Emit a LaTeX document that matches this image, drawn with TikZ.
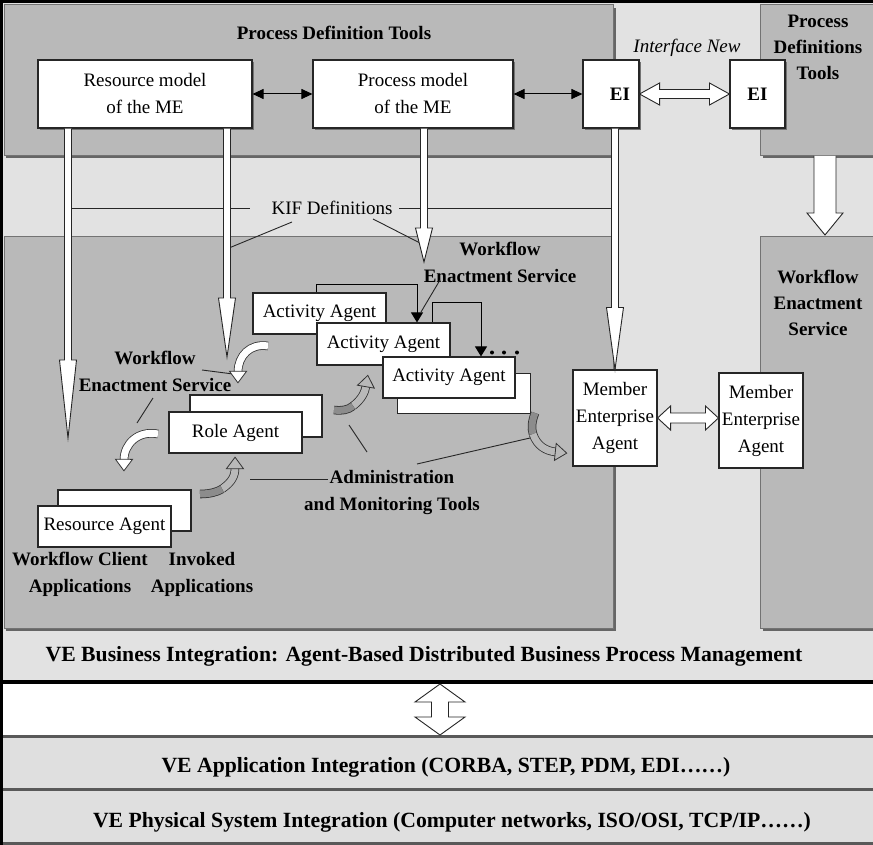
\documentclass[tikz,border=0pt]{standalone}
\usepackage{fontspec}
\setmainfont{Liberation Serif}
\usetikzlibrary{arrows.meta,calc,decorations.markings,shadows}

\definecolor{sheet}{gray}{0.885}
\definecolor{panelfill}{gray}{0.725}
\definecolor{paneledge}{gray}{0.45}
\definecolor{panelshadow}{gray}{0.40}
\definecolor{bandfill}{gray}{0.875}
\definecolor{bandline}{gray}{0.35}
\definecolor{twist}{gray}{0.55}

\newcommand\dgtxt{\fontsize{19}{27}\selectfont}
\newcommand\dgbig{\fontsize{21.7}{26}\selectfont\bfseries}

% hollow downward arrow: start point, tip point, head length, half shaft, half head
\newcommand\hollowdown[5]{%
  \draw[hollow] let \p1=#1, \p2=#2 in
    (\x2-#4,\y1) -- (\x2-#4,\y2+#3) -- (\x2-#5,\y2+#3) -- (\x2,\y2)
    -- (\x2+#5,\y2+#3) -- (\x2+#4,\y2+#3) -- (\x2+#4,\y1);}
% hollow horizontal double arrow: left tip, right tip, head length, half shaft, half head
\newcommand\hollowboth[5]{%
  \draw[hollow] let \p1=#1, \p2=#2 in
    (\x1,\y1) -- (\x1+#3,\y1+#5) -- (\x1+#3,\y1+#4) -- (\x2-#3,\y1+#4)
    -- (\x2-#3,\y1+#5) -- (\x2,\y1) -- (\x2-#3,\y1-#5) -- (\x2-#3,\y1-#4)
    -- (\x1+#3,\y1-#4) -- (\x1+#3,\y1-#5) -- cycle;}
% hollow vertical double arrow: top tip, bottom tip, head length, half shaft, half head
\newcommand\hollowvboth[5]{%
  \draw[hollow] let \p1=#1, \p2=#2 in
    (\x1,\y1) -- (\x1+#5,\y1-#3) -- (\x1+#4,\y1-#3) -- (\x1+#4,\y2+#3)
    -- (\x1+#5,\y2+#3) -- (\x1,\y2) -- (\x1-#5,\y2+#3) -- (\x1-#4,\y2+#3)
    -- (\x1-#4,\y1-#3) -- (\x1-#5,\y1-#3) -- cycle;}

\tikzset{
  panel/.style={fill=panelfill, draw=paneledge, line width=0.8pt},
  box/.style={draw=black!85, fill=white, line width=1.1pt, inner sep=0pt, align=center, font=\dgtxt},
  sbox/.style={box, drop shadow={shadow xshift=2pt, shadow yshift=-2pt, fill=black!55, opacity=1}},
  lbl/.style={align=center, inner sep=0pt, font=\dgtxt\bfseries},
  lead/.style={draw=black!85, line width=0.9pt},
  hollow/.style={draw=black!85, fill=white, line width=0.9pt, line join=miter},
  blk/.style={draw=black, line width=1pt, -{Triangle[length=10pt,width=12pt]}},
  blkboth/.style={draw=black, line width=1pt, {Triangle[length=11pt,width=10pt]}-{Triangle[length=11pt,width=10pt]}},
  ribbody/.style={preaction={draw=black!80, line width=8.6pt}, draw=#1, line width=7pt},
  ribhead/.style={postaction={decorate, decoration={markings, mark=at position -0.2pt with {\filldraw[fill=#1, draw=black!80, line width=0.8pt, line join=miter] (-0.5pt,-8.5pt) -- (11pt,0pt) -- (-0.5pt,8.5pt) -- cycle;}}}},
}

% curved ribbon arrows
\def\curA{(268,346) .. controls (250,343) and (238,356) .. (238,372)}
\def\curB{(158,434) .. controls (138,430) and (124,444) .. (124,460)}
\def\curCa{(200,494) .. controls (210,494) and (217,492) .. (222,489)}
\def\curCb{(222,489) .. controls (232,482) and (235,476) .. (235,468)}
\def\curDa{(334,410) .. controls (342,411) and (348,410) .. (353,406)}
\def\curDb{(353,406) .. controls (362,399) and (365,392) .. (366,386)}
\def\curEa{(535,413) .. controls (532,421) and (531,428) .. (533,434)}
\def\curEb{(533,434) .. controls (537,446) and (546,451) .. (556,452)}

\begin{document}
\begin{tikzpicture}[x=1pt,y=-1pt]
\useasboundingbox (0,0) rectangle (873,845);

% sheet and panels
\fill[white] (0,0) rectangle (873,845);
\fill[sheet] (3,3) rectangle (873,682);
\fill[panelshadow] (6,8) rectangle (616,158);
\draw[panel] (4,4) rectangle (613,155);
\fill[panelshadow] (763,8) rectangle (873,158);
\draw[panel] (760,4) rectangle (874,155);
\fill[panelshadow] (6,239) rectangle (616,631);
\draw[panel] (4,236) rectangle (613,628);
\fill[panelshadow] (763,239) rectangle (873,631);
\draw[panel] (760,236) rectangle (874,628);

% lower integration layers
\fill[bandfill] (3,736) rectangle (873,843);
\draw[bandline, line width=3pt] (3,736) -- (873,736);
\draw[bandline, line width=3pt] (3,789) -- (873,789);
\draw[bandline, line width=2.5pt] (3,843.5) -- (873,843.5);
\draw[line width=3.5pt] (3,682) -- (873,682);

% titles
\node[lbl] (pdt) at (334,33) {Process Definition Tools};
\node[lbl, font=\dgtxt\itshape] (ifn) at (687,48) {Interface New};
\node[lbl, font=\fontsize{19}{26}\selectfont\bfseries] (pdt2) at (818,47) {Process\\Definitions\\Tools};
\node[lbl, font=\fontsize{19}{26}\selectfont\bfseries] (wes3) at (818,303) {Workflow\\Enactment\\Service};
\node[lbl] (wes2) at (500,262) {Workflow\\Enactment Service};
\node[lbl] (wes1) at (155,371) {Workflow\\Enactment Service};
\node[lbl] (adm) at (392,493) {Administration\\and Monitoring Tools};
\node[lbl] (wca) at (80,574) {Workflow Client\\Applications};
\node[lbl] (inv) at (202,574) {Invoked\\Applications};
\node[lbl, font=\dgtxt, inner sep=2pt] (kif) at (332,208) {KIF Definitions};

\node[font=\dgbig, inner sep=0pt] (veb) at (424,656) {VE Business Integration: Agent-Based Distributed Business Process Management};
\node[font=\dgbig, inner sep=0pt] (vea) at (446,767) {VE Application Integration (CORBA, STEP, PDM, EDI\dots\dots)};
\node[font=\dgbig, inner sep=0pt] (vep) at (452,822) {VE Physical System Integration (Computer networks, ISO/OSI, TCP/IP\dots\dots)};

% KIF leader lines
\draw[lead] (72,208) -- (250,208);
\draw[lead] (399,208) -- (612,208);
\draw[lead] (292,222) -- (229,248);
\draw[lead] (373,219) -- (420,243);

% tips of the hollow arrows
\coordinate (t1) at (68,438);
\coordinate (t2) at (227,357);
\coordinate (t3) at (424,262);

% definition models
\node[sbox, minimum width=214pt, minimum height=68pt] (rm) at (145,94) {Resource model\\of the ME};
\node[sbox, minimum width=200pt, minimum height=68pt] (pm) at (413,94) {Process model\\of the ME};
\node[sbox, minimum width=56pt, minimum height=68pt, font=\dgtxt\bfseries] (ei1) at (611,94) {\hspace*{18pt}EI};
\node[sbox, minimum width=55pt, minimum height=68pt, font=\dgtxt\bfseries] (ei2) at (757.5,94) {EI};

\draw[blkboth] (rm.east) -- (pm.west);
\draw[blkboth] (pm.east) -- (ei1.west);
\hollowboth{(ei1.east)}{(ei2.west)}{20pt}{4.5pt}{11pt}

% member enterprise agents
\node[box, minimum width=84pt, minimum height=96pt] (me1) at (615,418) {Member\\Enterprise\\Agent};
\node[box, minimum width=84pt, minimum height=95pt] (me2) at (761,420.5) {Member\\Enterprise\\Agent};
\hollowboth{(me1.east)}{(me2.west |- me1.east)}{13pt}{5pt}{12pt}

% hollow arrows carrying the definitions
\hollowdown{(rm.south -| t1)}{(t1)}{78pt}{3.5pt}{8.5pt}
\hollowdown{(rm.south -| t2)}{(t2)}{59pt}{3.5pt}{8.5pt}
\hollowdown{(pm.south -| t3)}{(t3)}{34pt}{3.5pt}{8.5pt}
\hollowdown{(ei1.south -| me1.north)}{(me1.north)}{62pt}{3.5pt}{8.5pt}
\coordinate (f1) at (825,156);
\coordinate (f2) at (825,235);
\hollowdown{(f1)}{(f2)}{22pt}{11pt}{18pt}
\hollowvboth{(440,684)}{(440,735)}{18pt}{8.5pt}{25pt}

% activity agents
\node[box, minimum width=133pt, minimum height=41pt] (aa1) at (319.5,313.5) {Activity Agent};
\node[box, minimum width=133pt, minimum height=42pt] (aa2) at (383.5,344) {Activity Agent};
\node[box, minimum width=133pt, minimum height=40pt] (aa3b) at (464,393.5) {};
\node[box, minimum width=132pt, minimum height=41pt] (aa3) at (449,377.5) {Activity Agent};
\coordinate (k1) at (417,284);
\coordinate (k3) at (432,302);
\coordinate (k2) at (481,302);
\draw[blk] (aa1.north -| aa2.west) |- (k1) -- (k1 |- aa2.north);
\draw[blk] (k3 |- aa2.north) -- (k3) -- (k2) -- (k2 |- aa3.north);
\foreach \dx in {492,504,517} \fill (\dx,352.5) circle[radius=2pt];

% role and resource agents
\node[box, minimum width=132pt, minimum height=42pt] (rab) at (256,416) {};
\node[box, minimum width=133pt, minimum height=41pt] (ra) at (235.5,432.5) {Role Agent};
\node[box, minimum width=133pt, minimum height=41pt] (resb) at (124.5,510.5) {};
\node[box, minimum width=133pt, minimum height=41pt] (res) at (104.5,526.5) {Resource Agent};

% label leader lines
\draw[lead] (440,280) -- (421,312);
\draw[lead] (202,370) -- (233,374);
\draw[lead] (153,398) -- (137,423);
\draw[lead] (250,479) -- (328,479);
\draw[lead] (349,425) -- (367,452);
\draw[lead] (417,464) -- (530,438);

% curved ribbon arrows
\draw[ribbody=white] \curA;  \path[ribhead=white] \curA;
\draw[ribbody=white] \curB;  \path[ribhead=white] \curB;
\draw[ribbody=panelfill] \curCb; \draw[ribbody=twist] \curCa; \path[ribhead=panelfill] \curCb;
\draw[ribbody=panelfill] \curDb; \draw[ribbody=twist] \curDa; \path[ribhead=panelfill] \curDb;
\draw[ribbody=twist] \curEa; \draw[ribbody=panelfill] \curEb; \path[ribhead=panelfill] \curEb;

% outer frame: left and top edges
\draw[line width=3pt] (1.5,845) -- (1.5,1.5) -- (873,1.5);
\end{tikzpicture}
\end{document}
